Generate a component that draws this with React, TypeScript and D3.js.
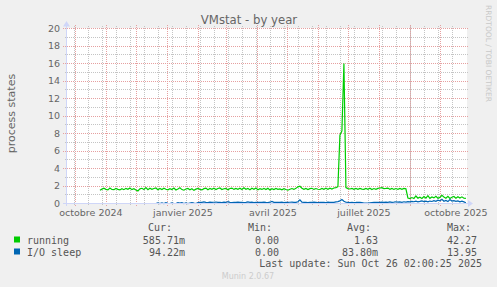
import React from "react";
import * as d3 from "d3";

// ---- time frame ----
const END = Date.UTC(2025, 9, 26, 2, 0, 25);
const START = END - 400 * 86400000;
const SERIES_START = Date.UTC(2024, 9, 25);
const STEP_DAYS = 2;

// ---- series values (one every 2 days) ----
const running = [
  1.52, 1.64, 1.74, 1.62, 1.56, 1.76, 1.60, 1.58, 1.72, 1.61,
  1.55, 1.70, 1.58, 1.73, 1.62, 1.78, 1.59, 1.69, 1.55, 1.44,
  1.68, 1.74, 1.60, 1.82, 1.57, 1.75, 1.62, 1.72, 1.78, 1.58,
  1.71, 1.60, 1.74, 1.63, 1.57, 1.70, 1.60, 1.76, 1.54, 1.66,
  1.79, 1.59, 1.52, 1.66, 1.72, 1.57, 1.69, 1.50, 1.64, 1.73,
  1.62, 1.55, 1.70, 1.76, 1.57, 1.71, 1.62, 1.75, 1.59, 1.72,
  1.77, 1.60, 1.69, 1.73, 1.58, 1.71, 1.76, 1.61, 1.72, 1.63,
  1.75, 1.60, 1.80, 1.62, 1.71, 1.58, 1.74, 1.63, 1.77, 1.57,
  1.70, 1.61, 1.73, 1.59, 1.75, 1.54, 1.69, 1.59, 1.72, 1.62,
  1.67, 1.57, 1.70, 1.60, 1.52, 1.63, 1.71, 1.61, 1.73, 1.90,
  1.97, 1.74, 1.63, 1.72, 1.60, 1.70, 1.74, 1.61, 1.71, 1.63,
  1.60, 1.72, 1.62, 1.74, 1.63, 1.75, 1.66, 1.77, 1.82, 1.92,
  7.8, 8.3, 16.0, 1.82, 1.70, 1.66, 1.73, 1.63, 1.72, 1.62,
  1.73, 1.64, 1.61, 1.72, 1.63, 1.75, 1.60, 1.71, 1.62, 1.73,
  1.77, 1.81, 1.70, 1.72, 1.76, 1.63, 1.73, 1.61, 1.71, 1.63,
  1.72, 1.62, 1.73, 1.68, 0.62, 0.56, 0.68, 0.58, 0.86, 0.61,
  0.72, 0.57, 0.80, 0.62, 0.90, 0.59, 0.74, 0.64, 0.82, 0.60,
  0.70, 0.93, 0.75, 0.61, 0.83, 0.58, 0.72, 0.80, 0.60, 0.78,
  0.63, 0.76, 0.60, 0.59,
];

const ioSleep = [
  0, 0, 0, 0, 0, 0, 0, 0, 0, 0,
  0, 0, 0, 0, 0, 0, 0, 0, 0, 0,
  0, 0, 0, 0, 0, 0, 0, 0, 0, 0.08,
  0, 0.06, 0, 0.1, 0.02, 0, 0.07, 0, 0, 0.09,
  0.05, 0.1, 0, 0.08, 0, 0.06, 0.1, 0.04, 0, 0.1,
  0.14, 0.12, 0.18, 0.13, 0.11, 0.15, 0.12, 0.14, 0.17, 0.12,
  0.13, 0.11, 0.15, 0.12, 0.2, 0.13, 0.11, 0.14, 0.12, 0.16,
  0.12, 0.14, 0.11, 0.13, 0.18, 0.12, 0.15, 0.11, 0.13, 0.12,
  0.14, 0.12, 0.16, 0.13, 0.11, 0.15, 0.24, 0.13, 0.12, 0.14,
  0.12, 0.15, 0.11, 0.13, 0.12, 0.14, 0.16, 0.12, 0.13, 0.2,
  0.42, 0.15, 0.12, 0.14, 0.11, 0.13, 0.12, 0.15, 0.13, 0.11,
  0.14, 0.12, 0.13, 0.11, 0.15, 0.12, 0.14, 0.13, 0.18, 0.22,
  0.3, 0.45, 0.25, 0.14, 0.12, 0.1, 0.13, 0.11, 0.12, 0.14,
  0.12, 0.1, 0.06, 0.04, 0.05, 0.08, 0.11, 0.13, 0.12, 0.14,
  0.13, 0.16, 0.12, 0.15, 0.13, 0.18, 0.14, 0.16, 0.2, 0.15,
  0.18, 0.14, 0.2, 0.16, 0.22, 0.18, 0.25, 0.2, 0.27, 0.19,
  0.24, 0.3, 0.22, 0.26, 0.2, 0.28, 0.23, 0.32, 0.25, 0.38,
  0.3, 0.48, 0.26, 0.35, 0.22, 0.45, 0.28, 0.32, 0.24, 0.3,
  0.2, 0.26, 0.18, 0.09,
];

// ---- axes ----
const yTickValues = [0, 2, 4, 6, 8, 10, 12, 14, 16, 18, 20];
const xLabelMonths = [
  Date.UTC(2024, 9, 1),
  Date.UTC(2025, 0, 1),
  Date.UTC(2025, 3, 1),
  Date.UTC(2025, 6, 1),
  Date.UTC(2025, 9, 1),
];
const xLabelTexts = ["octobre 2024", "janvier 2025", "avril 2025", "juillet 2025", "octobre 2025"];
const MINOR_GRID_ORIGIN = Date.UTC(2024, 8, 30);

// ---- legend ----
const legendNames = ["running", "I/O sleep"];
const legendColors = ["#00cc00", "#0066b3"];
const curValues = ["585.71m", "94.22m"];
const minValues = ["0.00", "0.00"];
const avgValues = ["1.63", "83.80m"];
const maxValues = ["42.27", "13.95"];

const DAY = 86400000;

export default function App() {
  const x = d3.scaleUtc().domain([START, END]).range([66, 466]);
  const y = d3.scaleLinear().domain([0, 20]).range([203.5, 28.5]);
  const py = (v: number) => Math.round(y(v) - 0.5) + 0.5;
  const px = (t: number) => Math.floor(x(t)) + 0.5;

  const months = d3.utcMonth.range(new Date(START), new Date(END)).map((d) => d.getTime());
  const minor: number[] = [];
  for (let t = MINOR_GRID_ORIGIN; t < END; t += 14 * DAY) if (t > START) minor.push(t);
  const minorY = d3.range(1, 20, 2);

  const line = d3
    .line<number>()
    .x((_, i) => x(SERIES_START + i * STEP_DAYS * DAY))
    .y((v) => y(v));

  const mono = "'DejaVu Sans Mono', monospace";
  const sans = "'DejaVu Sans', sans-serif";
  const minorCol = "#c4c4c4";
  const majorCol = "#e6a0a0";
  const axisCol = "#cfd6f8";

  return (
    <svg
      width={497}
      height={287}
      style={{ position: "absolute", left: 0, top: 0 }}
      xmlns="http://www.w3.org/2000/svg"
    >
      <rect x={0} y={0} width={497} height={287} fill="#f0f0f0" />
      <rect x={66} y={28} width={401} height={176} fill="#ffffff" />

      {/* minor grid */}
      <g stroke={minorCol} strokeWidth={1} strokeDasharray="1,1" shapeRendering="crispEdges">
        {minorY.map((v) => (
          <line key={"my" + v} x1={65} x2={468} y1={py(v)} y2={py(v)} />
        ))}
        {minor.map((t) => (
          <line key={"mx" + t} x1={px(t)} x2={px(t)} y1={26} y2={206} />
        ))}
      </g>
      {/* major grid */}
      <g stroke={majorCol} strokeWidth={1} strokeDasharray="1,1" shapeRendering="crispEdges">
        {yTickValues.map((v) => (
          <line key={"My" + v} x1={63} x2={469} y1={py(v)} y2={py(v)} />
        ))}
        {months.map((t) => (
          <line key={"Mx" + t} x1={px(t)} x2={px(t)} y1={25} y2={207} />
        ))}
      </g>

      {/* data */}
      <path d={line(ioSleep) || ""} fill="none" stroke="#0066b3" strokeWidth={1.2} />
      <path d={line(running) || ""} fill="none" stroke="#00cc00" strokeWidth={1.2} />

      {/* axes */}
      <g stroke={axisCol} strokeWidth={1} shapeRendering="crispEdges">
        <line x1={63} x2={470} y1={203.5} y2={203.5} />
        <line x1={66.5} x2={66.5} y1={206} y2={24} />
      </g>
      <polygon points="468,200 473,203.5 468,207" fill={axisCol} />
      <polygon points="63,26.5 66.5,21 70,26.5" fill={axisCol} />

      {/* y tick labels */}
      <g fontFamily={sans} fontSize={9.5} fill="#666" textAnchor="end">
        {yTickValues.map((v) => (
          <text key={"yl" + v} x={60} y={y(v) + 3.4}>
            {v}
          </text>
        ))}
      </g>
      {/* x tick labels */}
      <g fontFamily={sans} fontSize={9.5} fill="#666" textAnchor="middle">
        {xLabelMonths.map((t, i) => (
          <text key={"xl" + i} x={x(t + 15 * DAY)} y={216}>
            {xLabelTexts[i]}
          </text>
        ))}
      </g>

      {/* title & axis title */}
      <text x={249} y={24} fontFamily={sans} fontSize={11.7} fill="#666" textAnchor="middle">
        VMstat - by year
      </text>
      <text
        transform="translate(14.5,113.5) rotate(-90)"
        fontFamily={sans}
        fontSize={11}
        fill="#666"
        textAnchor="middle"
      >
        process states
      </text>
      <text
        transform="translate(486,53.5) rotate(90)"
        fontFamily={sans}
        fontSize={7.5}
        fill="#c8c8c8"
        textAnchor="middle"
        textLength={97}
        lengthAdjust="spacingAndGlyphs"
      >
        RRDTOOL / TOBI OETIKER
      </text>

      {/* legend */}
      <g fontFamily={mono} fontSize={10} fill="#555">
        <text x={172} y={231} textAnchor="end">Cur:</text>
        <text x={272} y={231} textAnchor="end">Min:</text>
        <text x={371} y={231} textAnchor="end">Avg:</text>
        <text x={471} y={231} textAnchor="end">Max:</text>
        {legendNames.map((n, i) => {
          const by = 243.5 + i * 12;
          return (
            <g key={n}>
              <rect x={14} y={by - 7} width={6} height={6} fill={legendColors[i]} />
              <text x={27} y={by}>{n}</text>
              <text x={185} y={by} textAnchor="end">{curValues[i]}</text>
              <text x={279} y={by} textAnchor="end">{minValues[i]}</text>
              <text x={378} y={by} textAnchor="end">{avgValues[i]}</text>
              <text x={477} y={by} textAnchor="end">{maxValues[i]}</text>
            </g>
          );
        })}
        <text x={482} y={267} textAnchor="end">
          Last update: Sun Oct 26 02:00:25 2025
        </text>
      </g>
      <text x={248} y={279} fontFamily={sans} fontSize={8} fill="#cccccc" textAnchor="middle">
        Munin 2.0.67
      </text>
    </svg>
  );
}
